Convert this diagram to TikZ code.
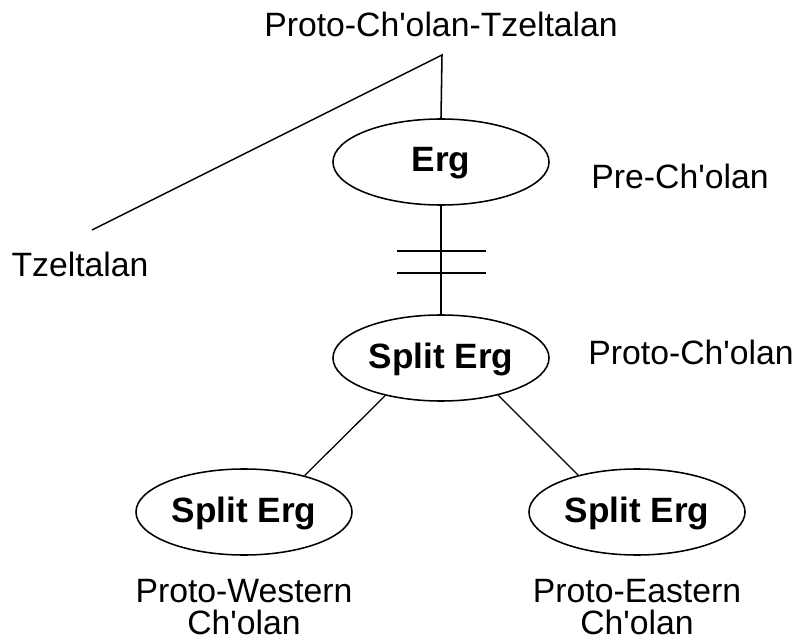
\documentclass[tikz,border=0pt]{standalone}
\usepackage{fontspec}
\setmainfont{Liberation Sans}[Ligatures=TeXOff]
\usetikzlibrary{shapes.geometric}

\begin{document}
\begin{tikzpicture}[x=0.025cm, y=-0.025cm, line width=1.1pt,
    stage/.style={draw, ellipse, minimum width=5.4cm, minimum height=2.15cm,
      inner sep=0pt, text depth=0.38em, font=\fontsize{25}{25}\bfseries\selectfont},
    lang/.style={font=\fontsize{24}{22.8}\selectfont, inner sep=0pt, align=center}]
  \useasboundingbox (0,0) rectangle (804,643);

  % root and the Tzeltalan branch
  \node[lang, anchor=base] (pct) at (441,37) {Proto-Ch'olan-Tzeltalan};
  \coordinate (apex) at (442,55);
  \coordinate (tzend) at (92,230);
  \node[lang, anchor=base] (tz) at (80,277) {Tzeltalan};

  % ergativity at each stage
  \node[stage] (erg) at (441,162) {Erg};
  \node[stage] (split) at (441,358) {Split Erg};
  \node[stage] (west) at (244,512) {Split Erg};
  \node[stage] (east) at (637,512) {Split Erg};

  \node[lang, anchor=base] (pre) at (680,189) {Pre-Ch'olan};
  \node[lang, anchor=base] (pc) at (691,364) {Proto-Ch'olan};
  \node[lang] (pwc) at (244,607) {Proto-Western\\Ch'olan};
  \node[lang] (pec) at (637,607) {Proto-Eastern\\Ch'olan};

  \draw (tzend) -- (apex) -- (erg.north);
  \draw (erg.south) -- (split.north);
  \draw (397,251) -- (486,251) (397,273) -- (486,273);

  \draw[line width=0.9pt] (split.214) -- (west.31);
  \draw[line width=0.9pt] (split.327) -- (east.148);
\end{tikzpicture}
\end{document}
